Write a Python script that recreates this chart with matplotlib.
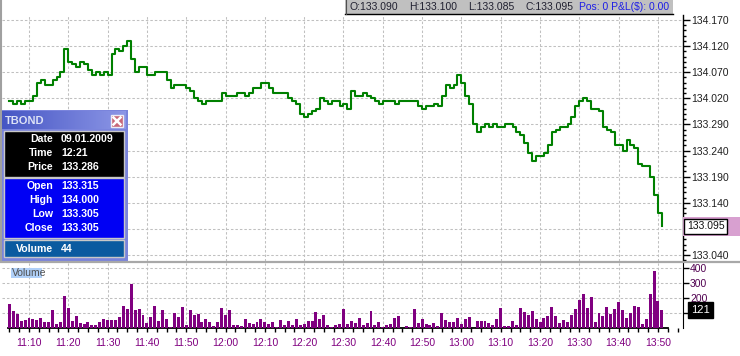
import numpy as np
import matplotlib
matplotlib.use("Agg")
import matplotlib.pyplot as plt
import matplotlib.transforms as mtransforms
from matplotlib.patches import Rectangle
from matplotlib.colors import LinearSegmentedColormap
from matplotlib.ticker import MultipleLocator

plt.rcParams['font.family'] = ['Liberation Sans', 'DejaVu Sans']

W, H = 740, 356

# one bar / close per minute, first one at 11:05 (minutes after 11:00)
first_minute = 5

# closes in bond quote notation (points . 32nds with tenths)
closes = [134.015, 134.010, 134.015, 134.010, 134.015, 134.015,
          134.025, 134.050, 134.055, 134.045, 134.045, 134.055, 134.060, 134.070,
          134.115, 134.090, 134.085, 134.080, 134.090, 134.085, 134.075, 134.065, 134.070, 134.065, 134.070, 134.065,
          134.105, 134.115, 134.110, 134.120, 134.130, 134.095, 134.070, 134.080, 134.080, 134.065, 134.065, 134.070, 134.070, 134.070,
          134.055, 134.040, 134.045, 134.045, 134.045, 134.040, 134.035, 134.020, 134.015, 134.010, 134.015, 134.015, 134.015, 134.015,
          134.030, 134.025, 134.025, 134.025, 134.030, 134.030, 134.025, 134.030, 134.040, 134.040, 134.050, 134.050, 134.040, 134.030, 134.030, 134.030, 134.030,
          134.020, 134.015, 134.010, 133.310, 133.305, 133.310, 133.315, 134.000, 134.020, 134.015, 134.010, 134.015, 134.015, 134.005, 134.010, 134.000,
          134.035, 134.025, 134.025, 134.030, 134.025, 134.020, 134.015, 134.010, 134.015, 134.015, 134.015, 134.010, 134.015, 134.015, 134.015, 134.015, 134.015,
          134.005, 134.000, 134.005, 134.005, 134.010, 134.005, 134.025, 134.045, 134.040, 134.045, 134.065, 134.050, 134.025, 134.010,
          133.290, 133.275, 133.285, 133.290, 133.285, 133.290, 133.285, 133.285, 133.290, 133.290, 133.285, 133.275, 133.270,
          133.255, 133.235, 133.220, 133.230, 133.230, 133.235, 133.250, 133.275, 133.280, 133.285, 133.285, 133.290,
          133.305, 134.005, 134.015, 134.020, 134.015, 134.000, 134.000, 133.315, 133.285, 133.280, 133.275,
          133.250, 133.250, 133.240, 133.260, 133.250, 133.245, 133.215, 133.210, 133.210, 133.190, 133.155, 133.120, 133.095]

volumes = [160, 113, 93, 47, 53, 67, 60, 53, 67, 40, 40, 120, 27, 40, 213, 133, 47, 80, 33, 27,
           40, 20, 20, 40, 60, 53, 53, 53, 73, 147, 127, 293, 120, 127, 87, 33, 73, 147, 47, 120,
           60, 7, 100, 73, 140, 20, 120, 87, 93, 40, 60, 40, 13, 40, 133, 87, 120,
           20, 20, 13, 60, 33, 27, 40, 60, 40, 27, 40, 7, 53, 20, 47, 20, 60, 20, 27, 47,
           47, 107, 60, 87, 20, 7, 20, 27, 127, 27, 47, 33, 67, 20, 33, 113, 20, 40, 7, 20,
           27, 67, 80, 0, 13, 7, 127, 33, 60, 27, 20, 33, 13, 100, 53, 40,
           40, 67, 27, 60, 73, 0, 47, 47, 47, 33, 20, 60, 133, 13, 13, 47, 20, 133, 107, 87,
           113, 60, 40, 67, 80, 140, 80, 33, 53, 40, 87, 127, 187, 227, 133, 207, 40, 100, 80, 140,
           93, 127, 173, 120, 67, 100, 147, 140, 27, 60, 227, 380, 180, 121]

price_ticks = [134.170, 134.120, 134.070, 134.020, 133.290, 133.240, 133.190, 133.140, 133.090, 133.040]
vol_ticks = [100, 200, 300, 400]
vol_labels = ['', '200', '300', '400']
time_ticks = list(range(10, 171, 10))

header_fields = ["O:133.090", "H:133.100", "L:133.085", "C:133.095"]
header_pos = "Pos: 0 P&L($): 0.00"

info_top = [("Date", "09.01.2009"), ("Time", "12:21"), ("Price", "133.286")]
info_mid = [("Open", "133.315"), ("High", "134.000"), ("Low", "133.305"), ("Close", "133.305")]
info_bot = [("Volume", "44")]


def q2d(q):
    # quote 133.095 -> 133 + 9.5/32
    q = np.asarray(q, dtype=float)
    whole = np.floor(q)
    return whole + np.round((q - whole) * 100, 2) / 32


def px_axes(l, t, r, b, **kw):
    return fig.add_axes([l / W, 1 - b / H, (r - l) / W, (b - t) / H], **kw)


minutes = first_minute + np.arange(len(closes))
prices = q2d(closes)

fig = plt.figure(figsize=(W / 100, H / 100), dpi=100)
fig.patch.set_facecolor('white')

# minute m sits at pixel 29 + (m - 10) * 3.931
ppm = 3.931
xlim = (10 + (2 - 29) / ppm, 10 + (683 - 29) / ppm)
grid_kw = dict(color='#c0c0c0', lw=0.75, ls=(0, (2.4, 1.9)))

# ---- price panel
ax1 = px_axes(2, 15, 683, 261)
ax1.plot(minutes, prices, drawstyle='steps-post', color='#008000', lw=1.5, zorder=3)
ax1.set_xlim(*xlim)
ppu = 5.222  # pixels per 1/32
ax1.set_ylim(133 + (4 - 6 / ppu) / 32, 133 + (49 + 5 / ppu) / 32)
ax1.set_xticks(time_ticks)
ax1.set_yticks(q2d(price_ticks))
# the label under the last-price marker is hidden by it
ax1.set_yticklabels(['' if abs(p - closes[-1]) < 0.008 else "%.3f" % p for p in price_ticks])
ax1.yaxis.set_minor_locator(MultipleLocator(1 / 32))
ax1.yaxis.tick_right()
ax1.tick_params(axis='x', length=0, labelbottom=False)
ax1.tick_params(axis='y', which='major', length=5, width=1, pad=1, labelsize=7.5, labelcolor='#202020')
ax1.tick_params(axis='y', which='minor', length=2.5, width=1)
for s in ['top', 'left', 'bottom']:
    ax1.spines[s].set_visible(False)
ax1.spines['right'].set_linewidth(1)
ax1.grid(True, **grid_kw)
ax1.set_axisbelow(True)

# current price marker
tr1 = mtransforms.blended_transform_factory(ax1.transAxes, ax1.transData)
band = 9.5 / ppu / 32
ax1.add_patch(Rectangle((1.0, prices[-1] - band), 57 / 681, 2 * band, transform=tr1,
                        fc='#d8a0d0', ec='none', clip_on=False, zorder=4))
ax1.text(1.006, prices[-1], "%.3f" % closes[-1], transform=tr1, va='center', ha='left',
         fontsize=7.5, color='#101010', zorder=5, clip_on=False,
         bbox=dict(boxstyle='square,pad=0.25', fc='white', ec='black', lw=1))

# ---- volume panel
ax2 = px_axes(2, 263, 683, 328)
ax2.bar(minutes, volumes, width=0.76, color='#800080', zorder=3)
ax2.set_xlim(*xlim)
ax2.set_ylim(0, 65 / 15 * 100)
ax2.set_xticks(time_ticks)
ax2.set_xticklabels(["%d:%02d" % (11 + m // 60, m % 60) for m in time_ticks])
ax2.xaxis.set_minor_locator(MultipleLocator(2.5))
ax2.set_yticks(vol_ticks)
ax2.set_yticklabels(vol_labels)
ax2.yaxis.tick_right()
ax2.tick_params(axis='x', which='both', length=3, width=1, pad=4, labelsize=7.5, labelcolor='#800080')
ax2.tick_params(axis='y', length=4, width=1, pad=1, labelsize=7.5, labelcolor='#500050')
for s in ['top', 'left']:
    ax2.spines[s].set_visible(False)
ax2.spines['bottom'].set_linewidth(1.3)
ax2.spines['bottom'].set_bounds(minutes[0] - 0.4, minutes[-1] + 1.5)
ax2.grid(True, **grid_kw)
ax2.set_axisbelow(True)

tr2 = mtransforms.blended_transform_factory(ax2.transAxes, ax2.transData)
ax2.text(1.012, volumes[-1], str(volumes[-1]), transform=tr2, va='center', ha='left',
         fontsize=8, color='white', zorder=5, clip_on=False,
         bbox=dict(boxstyle='square,pad=0.25', fc='black', ec='black'))

# ---- overlay in pixel coordinates (window chrome)
ov = fig.add_axes([0, 0, 1, 1], zorder=10)
ov.patch.set_visible(False)
ov.axis('off')

# borders
ov.plot([1, 1], [0, 261], color='#a0a0a0', lw=1.5)
ov.plot([0, W], [261.5, 261.5], color='#a8a8a8', lw=1.6)

# header bar
ov.add_patch(Rectangle((345, 0), 328, 14, fc='#c0c0c0', ec='none'))
ov.plot([345, 673], [14, 14], color='black', lw=1)
ov.plot([345.5, 345.5], [0, 14], color='#505050', lw=0.8)
for x, t in zip([349, 409, 468, 525], header_fields):
    ov.text(x, 7.5, t, fontsize=7.5, color='#202030', va='center', ha='left')
ov.text(579, 7.5, header_pos, fontsize=7.5, color='#1e1ee6', va='center', ha='left')

# volume label
ov.add_patch(Rectangle((11, 268), 31, 10, fc='#b0d0f8', ec='none'))
ov.text(12, 273.5, "Volume", fontsize=7.5, color='#505050', va='center', ha='left')

# info window
ov.add_patch(Rectangle((0, 110), 128, 151, fc='#7a84dc', ec='none'))
cmap = LinearSegmentedColormap.from_list('tb', ['#4656c4', '#8c96e6'])
ov.imshow(np.linspace(0, 1, 100)[None, :], extent=(2, 126, 129, 111), cmap=cmap, aspect='auto', zorder=2)
ov.text(5, 120.5, "TBOND", fontsize=8, fontweight='bold', color='#dde2f6', va='center', ha='left', zorder=3)
ov.add_patch(Rectangle((111, 115), 12, 12, fc='#c86878', ec='#ececf4', lw=1, zorder=3))
ov.plot([113.5, 120.5], [117.5, 124.5], color='white', lw=1.8, zorder=4)
ov.plot([113.5, 120.5], [124.5, 117.5], color='white', lw=1.8, zorder=4)

panels = [(131, 46, 'black', info_top, [139, 153, 167]),
          (178, 60, '#0000f4', info_mid, [186, 200, 214, 228]),
          (240, 17, '#0a5aa0', info_bot, [248.5])]
for top, h, fc, rows, ys in panels:
    ov.add_patch(Rectangle((4, top), 120, h, fc=fc, ec='#c8c8c8', lw=1, zorder=3))
    for (lab, val), y in zip(rows, ys):
        ov.text(53, y, lab, fontsize=7.6, fontweight='bold', color='white', ha='right', va='center', zorder=4)
        ov.text(61, y, val, fontsize=7.6, fontweight='bold', color='white', ha='left', va='center', zorder=4)

ov.set_xlim(0, W)
ov.set_ylim(H, 0)

fig.savefig('out.png', dpi=100)
